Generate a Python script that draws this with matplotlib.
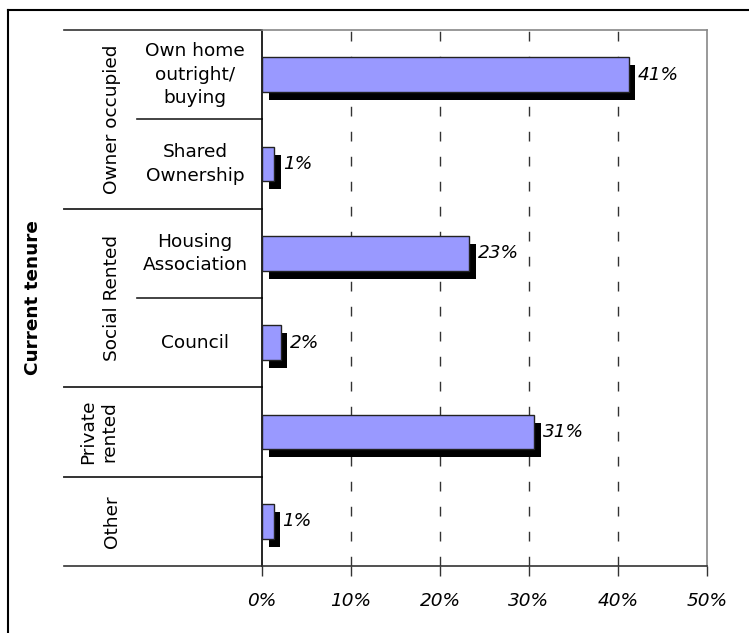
import matplotlib
matplotlib.use("Agg")
import matplotlib.pyplot as plt
import matplotlib.transforms as mtransforms
from matplotlib.lines import Line2D

# data
sub_labels = ["Own home\noutright/\nbuying", "Shared\nOwnership", "Housing\nAssociation",
              "Council", "", ""]
values = [41.2, 1.4, 23.3, 2.1, 30.6, 1.3]
value_labels = ["41%", "1%", "23%", "2%", "31%", "1%"]
groups = ["Owner occupied", "Social Rented", "Private\nrented", "Other"]
group_rows = [(0, 2), (2, 4), (4, 5), (5, 6)]   # row ranges per group
xticks = [0, 10, 20, 30, 40, 50]

plt.rcParams["font.family"] = "DejaVu Sans"
fs = 13.3

W, H = 749, 633
fig = plt.figure(figsize=(W / 100, H / 100), dpi=100)
ax = fig.add_axes([262 / W, 1 - 566 / H, (707 - 262) / W, (566 - 30) / H])

ys = [i + 0.5 for i in range(len(values))]
bh = 0.39

# shadow bars then the bars
ax.barh([y + 0.09 for y in ys], values, left=0.75, height=bh, color="black", zorder=2)
ax.barh(ys, values, height=bh, color="#9999ff", edgecolor="#222222", linewidth=1, zorder=3)

for y, v, lab in zip(ys, values, value_labels):
    ax.text(v + 1.0, y, lab, ha="left", va="center", fontsize=fs, style="italic", zorder=4)

ax.set_xlim(0, 50)
ax.set_ylim(6, 0)
ax.set_xticks(xticks)
ax.set_xticklabels([str(t) + "%" for t in xticks], style="italic", fontsize=fs)
ax.set_yticks([])
ax.tick_params(axis="x", direction="out", length=7, width=1, pad=12, color="#333333")
for t in xticks[1:-1]:
    ax.axvline(t, color="#333333", linestyle=(0, (7, 11)), linewidth=1, zorder=1)

ax.spines["left"].set_color("black")
ax.spines["bottom"].set_color("#333333")
ax.spines["top"].set_color("#888888")
ax.spines["right"].set_color("#888888")
for s in ax.spines.values():
    s.set_linewidth(1.2)

# category table on the left
tr = mtransforms.blended_transform_factory(ax.transAxes, ax.transData)
x_outer = (64 - 262) / 445
x_inner = (137 - 262) / 445
for g, (a, b) in zip(groups, group_rows):
    for yy in (a, b):
        ax.add_line(Line2D([x_outer, 0], [yy, yy], transform=tr, color="#333333",
                           linewidth=1.2, clip_on=False))
    gx = (112 - 262) / 445 if "\n" not in g else (99 - 262) / 445
    ax.text(gx, (a + b) / 2, g, transform=tr, rotation=90, ha="center", va="center",
            fontsize=fs, multialignment="center", clip_on=False)
for yy in (1, 3):
    ax.add_line(Line2D([x_inner, 0], [yy, yy], transform=tr, color="#222222",
                       linewidth=1.2, clip_on=False))
for y, lab in zip(ys, sub_labels):
    if lab:
        ax.text((195 - 262) / 445, y, lab, transform=tr, ha="center", va="center",
                fontsize=fs, multialignment="center", linespacing=1.4, clip_on=False)

ax.text((33 - 262) / 445, 3, "Current tenure", transform=tr, rotation=90,
        ha="center", va="center", fontsize=fs, fontweight="bold", clip_on=False)

# outer frame (only left and top fall inside the picture)
fig.add_artist(Line2D([8 / W, 8 / W], [0, 1 - 10 / H], color="black", linewidth=1.5))
fig.add_artist(Line2D([8 / W, 1], [1 - 10 / H, 1 - 10 / H], color="black", linewidth=1.5))

fig.savefig("out.png", dpi=100)
